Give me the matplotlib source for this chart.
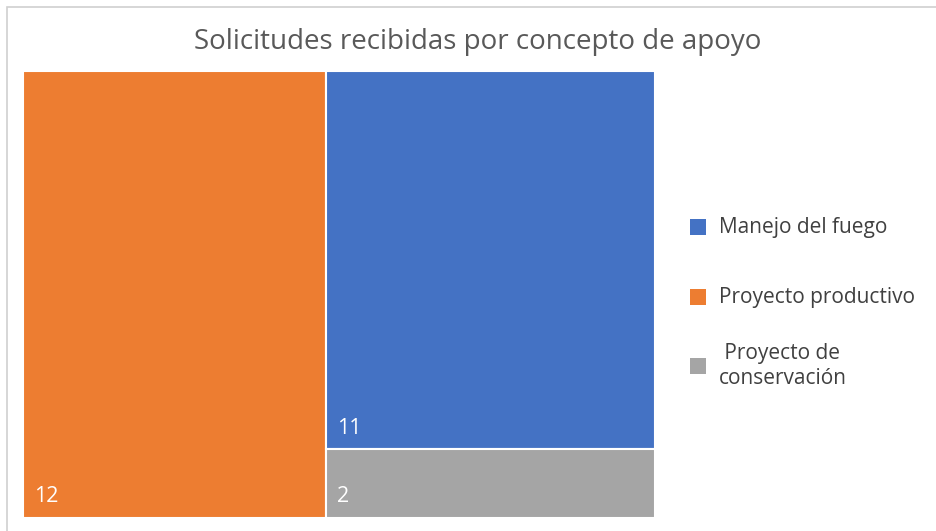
import matplotlib.pyplot as plt
from matplotlib.patches import Rectangle

# Data
categories = ['Manejo del fuego', 'Proyecto productivo', 'Proyecto de conservación']
legend_labels = ['Manejo del fuego', 'Proyecto productivo', ' Proyecto de\nconservación']
values = [11, 12, 2]
colors = ['#4472C4', '#ED7D31', '#A5A5A5']

W, H = 936, 531
fig = plt.figure(figsize=(W / 100, H / 100), dpi=100)
plt.rcParams['font.family'] = ['Open Sans', 'DejaVu Sans']

# outer chart frame
fig.patches.append(Rectangle((7.5 / W, -0.1), 1.2, 1.1 - 6.5 / H, transform=fig.transFigure,
                             fill=False, edgecolor='#D0D0D0', linewidth=1.2))

ax = fig.add_axes([23 / W, 13 / H, 632 / W, 447 / H])
total = sum(values)

# simple treemap: largest item takes a full-height column, the rest stack in the second column
order = sorted(range(len(values)), key=lambda i: -values[i])
first = order[0]
w_first = values[first] / total
rects = {first: (0, 0, w_first, 1)}
rest = order[1:]
rest_sum = sum(values[i] for i in rest)
top = 1.0
for i in rest:
    h = values[i] / rest_sum
    rects[i] = (w_first, top - h, 1 - w_first, h)
    top -= h

for i, (x, y, w, h) in rects.items():
    ax.add_patch(Rectangle((x, y), w, h, facecolor=colors[i], edgecolor='white', linewidth=1.5))
    ax.text(x + 0.017, y + 0.024, str(values[i]), color='white', fontsize=15.5,
            ha='left', va='bottom')

ax.set_xlim(0, 1)
ax.set_ylim(0, 1)
ax.axis('off')

fig.text(478 / W, 1 - 42 / H, 'Solicitudes recibidas por concepto de apoyo',
         ha='center', va='center', fontsize=20, color='#595959')

# legend
legend_y = [227, 297, 366]
for lab, col, yy in zip(legend_labels, colors, legend_y):
    fig.patches.append(Rectangle((690 / W, 1 - (yy + 8) / H), 16 / W, 16 / H,
                                 transform=fig.transFigure, facecolor=col, edgecolor='none'))
    fig.text(719 / W, 1 - yy / H, lab, ha='left', va='center', fontsize=15,
             color='#404040', linespacing=1.3)

plt.savefig('out.png', dpi=100)
plt.close()
